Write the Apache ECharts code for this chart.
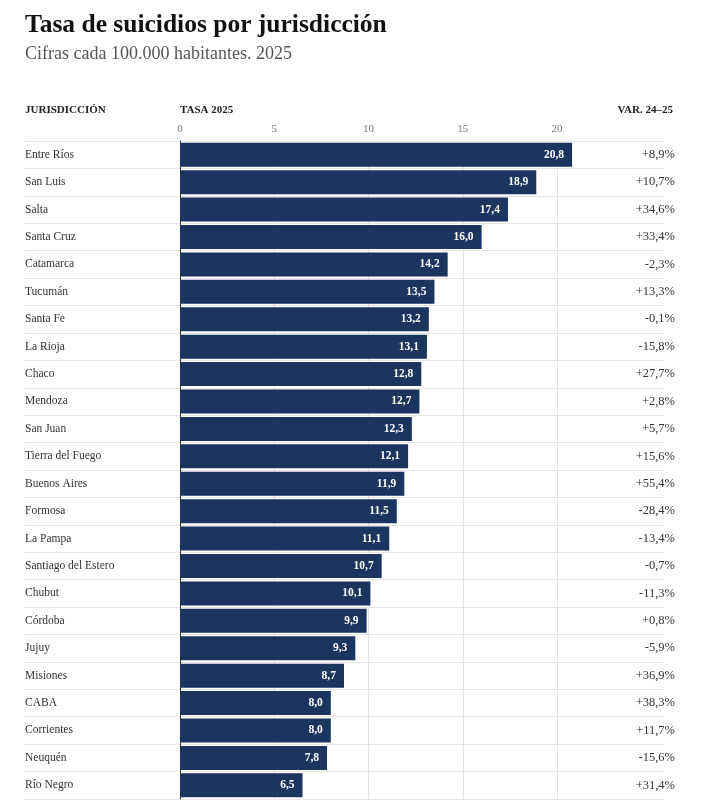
<!DOCTYPE html>
<html>
<head>
<meta charset="utf-8">
<script src="https://cdn.jsdelivr.net/npm/echarts@6/dist/echarts.min.js"></script>
<style>
  html, body { margin: 0; padding: 0; background: #fff; }
  #chart { width: 728px; height: 808px; }
</style>
</head>
<body>
<div id="chart"></div>
<script>
// jurisdicciones, de mayor a menor tasa
const provincias = ['Entre Ríos', 'San Luis', 'Salta', 'Santa Cruz', 'Catamarca', 'Tucumán', 'Santa Fe',
  'La Rioja', 'Chaco', 'Mendoza', 'San Juan', 'Tierra del Fuego', 'Buenos Aires', 'Formosa', 'La Pampa',
  'Santiago del Estero', 'Chubut', 'Córdoba', 'Jujuy', 'Misiones', 'CABA', 'Corrientes', 'Neuquén', 'Río Negro'];
const tasa2025 = [20.8, 18.9, 17.4, 16.0, 14.2, 13.5, 13.2, 13.1, 12.8, 12.7, 12.3, 12.1, 11.9, 11.5, 11.1,
  10.7, 10.1, 9.9, 9.3, 8.7, 8.0, 8.0, 7.8, 6.5];
const variacion = ['+8,9%', '+10,7%', '+34,6%', '+33,4%', '-2,3%', '+13,3%', '-0,1%', '-15,8%', '+27,7%',
  '+2,8%', '+5,7%', '+15,6%', '+55,4%', '-28,4%', '-13,4%', '-0,7%', '-11,3%', '+0,8%', '-5,9%', '+36,9%',
  '+38,3%', '+11,7%', '-15,6%', '+31,4%'];
const ticksX = [0, 5, 10, 15, 20];

const serif = '"Liberation Serif", "Times New Roman", serif';
const coma = v => v.toFixed(1).replace('.', ',');

const chart = echarts.init(document.getElementById('chart'), null, {renderer: 'canvas'});

chart.setOption({
  backgroundColor: '#fff',
  animation: false,
  title: {
    left: 25, top: 12, padding: 0,
    text: 'Tasa de suicidios por jurisdicción',
    subtext: 'Cifras cada 100.000 habitantes. 2025',
    itemGap: 7,
    textStyle: {fontFamily: serif, fontSize: 25.5, fontWeight: 'bold', color: '#111'},
    subtextStyle: {fontFamily: serif, fontSize: 18, color: '#555'}
  },
  graphic: [
    {type: 'text', left: 25, top: 105, style: {text: 'JURISDICCIÓN', font: 'bold 11px ' + serif, fill: '#222'}},
    {type: 'text', left: 180, top: 105, style: {text: 'TASA 2025', font: 'bold 11px ' + serif, fill: '#222'}},
    {type: 'text', right: 55, top: 105, style: {text: 'VAR. 24–25', font: 'bold 11px ' + serif, fill: '#222'}}
  ],
  grid: [
    // barras
    {left: 180, right: 171, top: 141, height: 658},
    // filas: nombres, separadores y variación
    {left: 25, right: 63, top: 141, height: 658}
  ],
  xAxis: [
    {
      gridIndex: 0, type: 'value', position: 'top', min: 0, max: 20, interval: 5,
      axisLine: {show: false}, axisTick: {show: false},
      axisLabel: {
        fontFamily: serif, fontSize: 11, color: '#777', margin: 6,
        formatter: v => ticksX.includes(v) ? String(v) : ''
      },
      splitLine: {show: true, lineStyle: {color: '#e2e2e2', width: 1}}
    },
    {gridIndex: 1, type: 'value', show: false}
  ],
  yAxis: [
    {
      gridIndex: 0, type: 'category', data: provincias, inverse: true,
      axisLine: {show: true, lineStyle: {color: '#333', width: 1}},
      axisTick: {show: false}, axisLabel: {show: false}, splitLine: {show: false}
    },
    {
      gridIndex: 1, type: 'category', data: provincias, inverse: true, position: 'left',
      axisLine: {show: false}, axisTick: {show: false},
      axisLabel: {fontFamily: serif, fontSize: 11.5, color: '#333', align: 'left', margin: 0},
      splitLine: {show: true, lineStyle: {color: '#e6e6e6', width: 1}}
    },
    {
      gridIndex: 1, type: 'category', data: provincias, inverse: true, position: 'right',
      axisLine: {show: false}, axisTick: {show: false}, splitLine: {show: false},
      axisLabel: {
        fontFamily: serif, fontSize: 12.5, color: '#333', align: 'right', margin: 10,
        formatter: (v, i) => variacion[i]
      }
    }
  ],
  series: [
    {
      type: 'bar',
      xAxisIndex: 0, yAxisIndex: 0,
      data: tasa2025,
      barWidth: 24,
      clip: false,
      itemStyle: {color: '#1b355e'},
      label: {
        show: true, position: 'insideRight', distance: 8,
        fontFamily: serif, fontSize: 11.5, fontWeight: 'bold', color: '#fff',
        formatter: p => coma(p.value)
      },
      z: 3
    }
  ]
});
</script>
</body>
</html>
